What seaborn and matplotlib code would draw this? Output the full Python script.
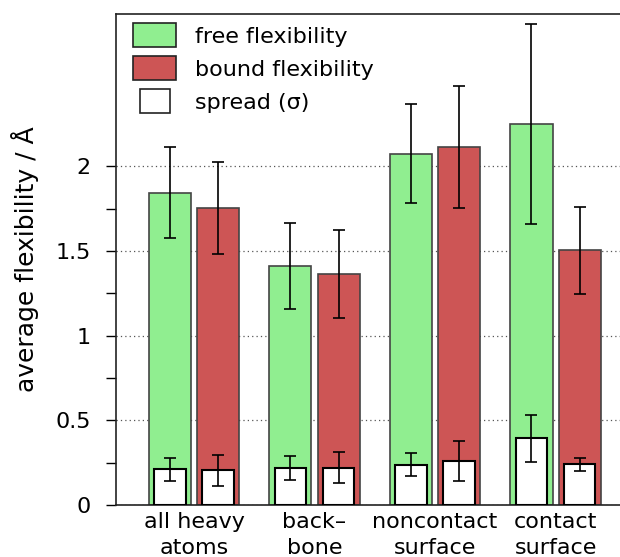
import pandas as pd
import matplotlib
matplotlib.use("Agg")
import matplotlib.pyplot as plt
from matplotlib.patches import Patch, Rectangle
from matplotlib.legend_handler import HandlerPatch
import seaborn as sns

# Data
regions = ["all heavy\natoms", "back\u2013\nbone", "noncontact\nsurface", "contact\nsurface"]
states = ["free", "bound"]

free_flex = [1.845, 1.41, 2.075, 2.25]
free_flex_err = [0.27, 0.253, 0.293, 0.59]
bound_flex = [1.755, 1.365, 2.115, 1.505]
bound_flex_err = [0.271, 0.26, 0.36, 0.258]

free_spread = [0.21, 0.217, 0.238, 0.393]
free_spread_err = [0.069, 0.07, 0.067, 0.139]
bound_spread = [0.205, 0.221, 0.262, 0.24]
bound_spread_err = [0.092, 0.093, 0.118, 0.039]

green = "#90EE90"
red = "#CD5555"

df = pd.DataFrame({
    "region": regions * 2,
    "state": ["free"] * 4 + ["bound"] * 4,
    "flex": free_flex + bound_flex,
    "spread": free_spread + bound_spread,
})

sns.set_style("ticks")
plt.rcParams["font.family"] = ["DejaVu Sans"]
plt.rcParams["text.color"] = "black"
plt.rcParams["axes.labelcolor"] = "black"
plt.rcParams["xtick.color"] = "black"
plt.rcParams["ytick.color"] = "black"

fig = plt.figure(figsize=(6.2, 5.57), dpi=100)
ax = fig.add_axes([116 / 620, 52 / 557, 517.5 / 620, 491 / 557])

# main flexibility bars
sns.barplot(data=df, x="region", y="flex", hue="state", hue_order=states,
            palette=[green, red], saturation=1, width=0.8, gap=0.125, errorbar=None,
            edgecolor="#444444", linewidth=1.2, legend=False, ax=ax, zorder=2)


def add_errs(container, values, errs, z):
    xs = [p.get_x() + p.get_width() / 2 for p in container]
    ax.errorbar(xs, values, yerr=errs, fmt="none", ecolor="black",
                elinewidth=1.2, capsize=4.5, capthick=1.2, zorder=z)


add_errs(ax.containers[0], free_flex, free_flex_err, 3)
add_errs(ax.containers[1], bound_flex, bound_flex_err, 3)

# spread bars on top
n_before = len(ax.containers)
sns.barplot(data=df, x="region", y="spread", hue="state", hue_order=states,
            palette=["white", "white"], saturation=1, width=0.8, gap=0.35, errorbar=None,
            edgecolor="black", linewidth=1.5, legend=False, ax=ax, zorder=4)
spread_conts = ax.containers[n_before:]
add_errs(spread_conts[0], free_spread, free_spread_err, 5)
add_errs(spread_conts[1], bound_spread, bound_spread_err, 5)

ax.set_xlim(-0.647, 3.647)
ax.set_ylim(0, 2.9)
ax.set_yticks([0, 0.5, 1, 1.5, 2])
ax.set_yticklabels(["0", "0.5", "1", "1.5", "2"])
ax.set_yticks([0.25, 0.75, 1.25, 1.75], minor=True)
ax.yaxis.grid(True, which="major", linestyle=(0, (1, 2.5)), color="#555555", linewidth=0.9)
ax.set_axisbelow(True)

ax.tick_params(axis="y", which="both", direction="out", length=7, width=1,
               labelsize=16, pad=11)
ax.tick_params(axis="x", length=0, labelsize=16, pad=5)
for lab in ax.get_xticklabels():
    lab.set_linespacing(1.35)

for s in ["left", "bottom", "top"]:
    ax.spines[s].set_color("#222222")
    ax.spines[s].set_linewidth(1.2)
ax.spines["right"].set_visible(False)

ax.set_xlabel("")
ax.set_ylabel("average flexibility / \u00c5", fontsize=18)
ax.yaxis.set_label_coords(-0.148, 0.5)


# legend
def small_rect(legend, orig_handle, xdescent, ydescent, width, height, fontsize):
    return Rectangle((-xdescent + width * 0.16, -ydescent), width * 0.7, height)


h_free = Patch(facecolor=green, edgecolor="#222222", linewidth=1.2)
h_bound = Patch(facecolor=red, edgecolor="#222222", linewidth=1.2)
h_spread = Patch(facecolor="white", edgecolor="#222222", linewidth=1.2)
ax.legend([h_free, h_bound, h_spread],
          ["free flexibility", "bound flexibility", "spread (\u03c3)"],
          loc="upper left", bbox_to_anchor=(17 / 517.5, 1 - 9 / 491),
          frameon=False, fontsize=16, handlelength=1.95, handleheight=1.3,
          handletextpad=0.85, labelspacing=0.4, borderpad=0, borderaxespad=0,
          handler_map={h_spread: HandlerPatch(patch_func=small_rect)})

fig.savefig("out.png", dpi=100)
